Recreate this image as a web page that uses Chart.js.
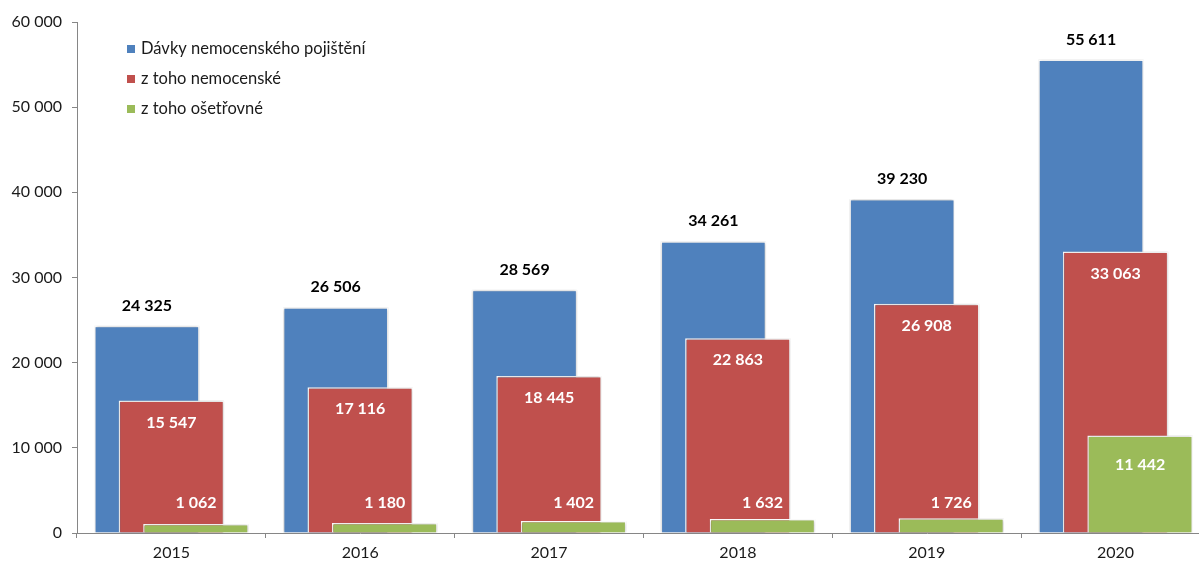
<!DOCTYPE html>
<html lang="cs">
<head>
<meta charset="utf-8">
<script src="https://cdn.jsdelivr.net/npm/chart.js@4/dist/chart.umd.min.js"></script>
<style>
  html, body { margin: 0; padding: 0; background: #fff; overflow: hidden; }
  /* the original chart is cut off a little on the right, so draw wider and clip */
  #wrap { width: 1199px; height: 565px; overflow: hidden; }
</style>
</head>
<body>
<div id="wrap"><canvas id="myChart" width="1211" height="565"></canvas></div>
<script>
const years = ["2015", "2016", "2017", "2018", "2019", "2020"];
const davky = [24325, 26506, 28569, 34261, 39230, 55611];
const nemocenske = [15547, 17116, 18445, 22863, 26908, 33063];
const osetrovne = [1062, 1180, 1402, 1632, 1726, 11442];
const seriesNames = [
  "Dávky nemocenského pojištění",
  "z toho nemocenské",
  "z toho ošetřovné",
];
const yTicks = [0, 10000, 20000, 30000, 40000, 50000, 60000];

const fontFamily = "Lato, 'Open Sans', sans-serif";
const fmt = (v) => String(v).replace(/\B(?=(\d{3})+(?!\d))/g, " ");

// label look per dataset: colour + where it sits relative to the bar top
const labelStyle = [
  { color: "#000", place: (bar) => bar.y - 20 },
  { color: "#fff", place: (bar) => bar.y + 22 },
  { color: "#fff", place: (bar) => Math.min(bar.y + 29, bar.base - 30) },
];

// draw the first dataset at the back so later ones overlap it (like Excel)
const backToFront = {
  id: "backToFront",
  beforeDatasetsDraw(chart) {
    const ctx = chart.ctx;
    chart.getSortedVisibleDatasetMetas().forEach((meta) => {
      ctx.save();
      ctx.shadowColor = "rgba(0,0,0,0.28)";
      ctx.shadowBlur = 3;
      meta.controller.draw();
      ctx.restore();
    });
    return false;
  },
  afterDraw(chart) {
    const ctx = chart.ctx;
    ctx.save();
    ctx.font = `bold 16px ${fontFamily}`;
    ctx.textAlign = "center";
    ctx.textBaseline = "middle";
    chart.data.datasets.forEach((ds, i) => {
      const meta = chart.getDatasetMeta(i);
      meta.data.forEach((bar, j) => {
        ctx.fillStyle = labelStyle[i].color;
        ctx.fillText(fmt(ds.data[j]), bar.x, labelStyle[i].place(bar));
      });
    });

    // legend inside the plot, top left
    ctx.font = `16.5px ${fontFamily}`;
    ctx.textAlign = "left";
    chart.data.datasets.forEach((ds, i) => {
      const y = 49 + i * 30;
      ctx.fillStyle = ds.backgroundColor;
      ctx.fillRect(127, y - 4, 8, 8);
      ctx.fillStyle = "#1a1a1a";
      ctx.fillText(ds.label, 141, y);
    });
    ctx.restore();
  },
};

const barCommon = {
  borderColor: "#fff",
  borderWidth: 1.5,
  categoryPercentage: 0.39,
  barPercentage: 4.3,
};

const chartDraw = document.getElementById("myChart").getContext("2d");
const chart = new Chart(chartDraw, {
  type: "bar",
  data: {
    labels: years,
    datasets: [
      { label: seriesNames[0], data: davky, backgroundColor: "#4F81BD", ...barCommon },
      { label: seriesNames[1], data: nemocenske, backgroundColor: "#C0504D", ...barCommon },
      { label: seriesNames[2], data: osetrovne, backgroundColor: "#9BBB59", ...barCommon },
    ],
  },
  options: {
    responsive: false,
    animation: false,
    layout: { padding: { top: 22, right: 1, left: 0, bottom: 0 } },
    plugins: {
      legend: { display: false },
      tooltip: { enabled: false },
    },
    scales: {
      x: {
        afterFit: (scale) => { scale.height = 32; },
        border: { display: true, color: "#868686", width: 1 },
        grid: {
          display: true,
          drawOnChartArea: false,
          drawTicks: true,
          tickLength: 5,
          color: "#868686",
          offset: true,
        },
        ticks: { color: "#1a1a1a", font: { family: fontFamily, size: 16 }, padding: 5 },
      },
      y: {
        min: 0,
        max: 60000,
        afterFit: (scale) => { scale.width = 77; },
        afterBuildTicks: (scale) => {
          scale.ticks = yTicks.map((v) => ({ value: v }));
        },
        border: { display: true, color: "#868686", width: 1 },
        grid: {
          display: true,
          drawOnChartArea: false,
          drawTicks: true,
          tickLength: 5,
          color: "#868686",
        },
        ticks: {
          color: "#1a1a1a",
          font: { family: fontFamily, size: 16 },
          padding: 10,
          callback: (v) => fmt(v),
        },
      },
    },
  },
  plugins: [backToFront],
});
</script>
</body>
</html>
